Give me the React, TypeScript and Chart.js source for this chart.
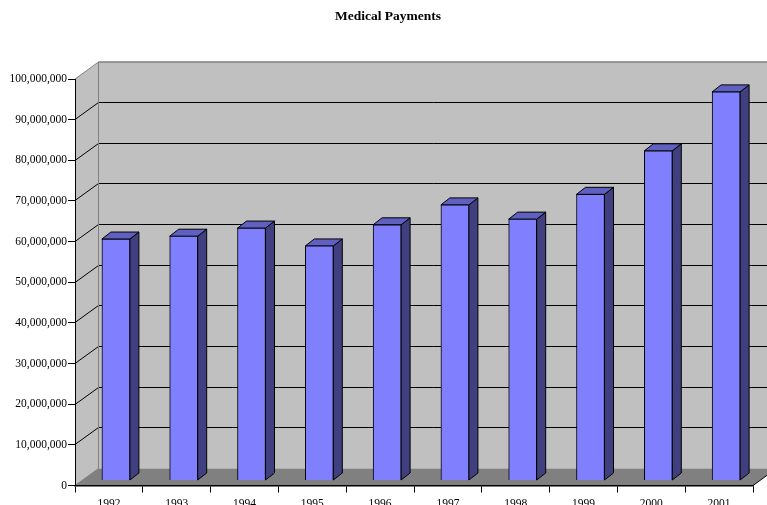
import React, { useEffect, useRef } from "react";
import { Chart, registerables } from "chart.js";

Chart.register(...registerables);

const categories = ["1992", "1993", "1994", "1995", "1996", "1997", "1998", "1999", "2000", "2001"];
const medicalPayments = [59400000, 60100000, 62100000, 57700000, 62900000, 67800000, 64300000, 70400000, 81100000, 95600000];
const yTicks = [0, 10000000, 20000000, 30000000, 40000000, 50000000, 60000000, 70000000, 80000000, 90000000, 100000000];

const WALL_DX = 23.5;
const WALL_DY = -17;
const BAR_SHIFT_X = 7;
const BAR_SHIFT_Y = -5;
const BAR_DX = 9;
const BAR_DY = -7;

function poly(ctx: CanvasRenderingContext2D, pts: number[][], fill: string | null, stroke: string | null, lw = 1) {
  ctx.beginPath();
  pts.forEach((p, i) => (i ? ctx.lineTo(p[0], p[1]) : ctx.moveTo(p[0], p[1])));
  ctx.closePath();
  if (fill) { ctx.fillStyle = fill; ctx.fill(); }
  if (stroke) { ctx.strokeStyle = stroke; ctx.lineWidth = lw; ctx.stroke(); }
}

function line(ctx: CanvasRenderingContext2D, x1: number, y1: number, x2: number, y2: number, color: string, lw = 1) {
  ctx.beginPath();
  ctx.moveTo(x1, y1);
  ctx.lineTo(x2, y2);
  ctx.strokeStyle = color;
  ctx.lineWidth = lw;
  ctx.stroke();
}

const walls3d = {
  id: "walls3d",
  afterLayout(chart: any) {
    // the title is centred on the whole picture's plot block, not on the axis area
    if (chart.titleBlock) chart.titleBlock.left = 23;
  },
  beforeDraw(chart: any) {
    const { ctx, chartArea: a, scales } = chart;
    const y = scales.y;
    const W = chart.width + 20;
    ctx.save();
    // left wall
    poly(ctx, [[a.left, a.top], [a.left + WALL_DX, a.top + WALL_DY], [a.left + WALL_DX, a.bottom + WALL_DY], [a.left, a.bottom]], "#C0C0C0", null);
    // back wall
    poly(ctx, [[a.left + WALL_DX, a.top + WALL_DY], [W, a.top + WALL_DY], [W, a.bottom + WALL_DY], [a.left + WALL_DX, a.bottom + WALL_DY]], "#C0C0C0", null);
    // floor
    poly(ctx, [[a.left, a.bottom], [a.right, a.bottom], [a.right + WALL_DX, a.bottom + WALL_DY], [a.left + WALL_DX, a.bottom + WALL_DY]], "#808080", null);
    // gridlines from the value scale
    yTicks.slice(1, -1).forEach((v) => {
      const py = Math.round(y.getPixelForValue(v) - 0.5) + 0.5;
      line(ctx, a.left, py, a.left + WALL_DX, py + WALL_DY, "#000000");
      line(ctx, a.left + WALL_DX, py + WALL_DY, W, py + WALL_DY, "#000000");
    });
    // wall edges
    line(ctx, a.left + WALL_DX, a.top + WALL_DY, a.left + WALL_DX, a.bottom + WALL_DY, "#808080");
    line(ctx, a.left + WALL_DX, a.top + WALL_DY, W, a.top + WALL_DY, "#808080", 1.5);
    line(ctx, a.left, a.top, a.left + WALL_DX, a.top + WALL_DY, "#808080");
    line(ctx, a.left, a.bottom, a.left + WALL_DX, a.bottom + WALL_DY, "#808080");
    // floor right edge
    line(ctx, a.right, a.bottom, a.right + WALL_DX, a.bottom + WALL_DY, "#000000");
    ctx.restore();
  },
  beforeDatasetsDraw(chart: any) {
    const { ctx } = chart;
    ctx.save();
    ctx.translate(BAR_SHIFT_X, BAR_SHIFT_Y);
    chart.getDatasetMeta(0).data.forEach((bar: any) => {
      const l = bar.x - bar.width / 2;
      const r = bar.x + bar.width / 2;
      const t = bar.y;
      const b = bar.base;
      ctx.lineJoin = "round";
      poly(ctx, [[r, t], [r + BAR_DX, t + BAR_DY], [r + BAR_DX, b + BAR_DY], [r, b]], "#404080", "#000000", 1);
      poly(ctx, [[l, t], [r, t], [r + BAR_DX, t + BAR_DY], [l + BAR_DX, t + BAR_DY]], "#6060C0", "#000000", 1);
    });
  },
  afterDatasetsDraw(chart: any) {
    chart.ctx.restore();
  },
};

export default function App() {
  const ref = useRef<HTMLCanvasElement>(null);
  useEffect(() => {
    const chart = new Chart(ref.current!, {
      type: "bar",
      data: {
        labels: categories,
        datasets: [
          {
            label: "Medical Payments",
            data: medicalPayments,
            backgroundColor: "#8080FF",
            borderColor: "#000000",
            borderWidth: 1,
            barThickness: 28,
            clip: false,
          } as any,
        ],
      },
      options: {
        animation: false,
        responsive: false,
        devicePixelRatio: 1,
        layout: { padding: { left: 0, right: 14, top: 0, bottom: 0 } },
        plugins: {
          legend: { display: false },
          tooltip: { enabled: false },
          title: {
            display: true,
            text: "Medical Payments",
            color: "#000000",
            font: { family: "'Liberation Serif'", size: 13.5, weight: "bold", lineHeight: 1.2 },
            padding: { top: 8.2, bottom: 54.6 },
          },
        },
        scales: {
          x: {
            afterFit: (s: any) => { s.height = 19.5; },
            grid: { drawOnChartArea: false, drawTicks: true, tickLength: 7, color: "#000000" },
            border: { color: "#000000", width: 1.5 },
            ticks: {
              color: "#000000",
              font: { family: "'Liberation Serif'", size: 11.5 },
              padding: 5,
              maxRotation: 0,
              autoSkip: false,
            },
          },
          y: {
            min: 0,
            max: 100000000,
            afterFit: (s: any) => { s.width = 75; },
            afterBuildTicks: (s: any) => { s.ticks = yTicks.map((value) => ({ value })); },
            grid: { drawOnChartArea: false, drawTicks: true, tickLength: 7, color: "#000000" },
            border: { color: "#000000", width: 1 },
            ticks: {
              color: "#000000",
              font: { family: "'Liberation Serif'", size: 11.5 },
              padding: 1,
              callback: (v: any) => Number(v).toLocaleString("en-US"),
            },
          },
        },
      },
      plugins: [walls3d],
    } as any);
    return () => chart.destroy();
  }, []);
  return (
    <div style={{ position: "fixed", left: 0, top: 0, width: 767, height: 505, background: "#ffffff", overflow: "hidden" }}>
      <canvas ref={ref} width={767} height={505} style={{ display: "block" }} />
    </div>
  );
}
